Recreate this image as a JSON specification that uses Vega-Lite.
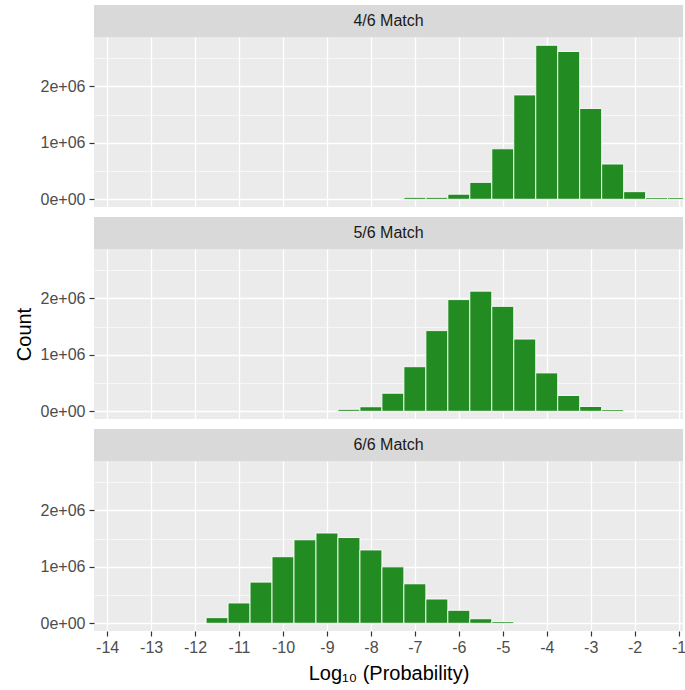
{
  "$schema": "https://vega.github.io/schema/vega-lite/v6.json",
  "padding": {"left": 14, "top": 5, "right": 0, "bottom": 2},
  "background": "white",
  "datasets": {
    "bins": [
      {"panel": "4/6 Match", "lo": -7.25, "hi": -6.75, "count": 35000},
      {"panel": "4/6 Match", "lo": -6.75, "hi": -6.25, "count": 35000},
      {"panel": "4/6 Match", "lo": -6.25, "hi": -5.75, "count": 90000},
      {"panel": "4/6 Match", "lo": -5.75, "hi": -5.25, "count": 300000},
      {"panel": "4/6 Match", "lo": -5.25, "hi": -4.75, "count": 895000},
      {"panel": "4/6 Match", "lo": -4.75, "hi": -4.25, "count": 1850000},
      {"panel": "4/6 Match", "lo": -4.25, "hi": -3.75, "count": 2730000},
      {"panel": "4/6 Match", "lo": -3.75, "hi": -3.25, "count": 2620000},
      {"panel": "4/6 Match", "lo": -3.25, "hi": -2.75, "count": 1610000},
      {"panel": "4/6 Match", "lo": -2.75, "hi": -2.25, "count": 625000},
      {"panel": "4/6 Match", "lo": -2.25, "hi": -1.75, "count": 135000},
      {"panel": "4/6 Match", "lo": -1.75, "hi": -1.25, "count": 30000},
      {"panel": "4/6 Match", "lo": -1.25, "hi": -0.75, "count": 30000},
      {"panel": "5/6 Match", "lo": -8.75, "hi": -8.25, "count": 35000},
      {"panel": "5/6 Match", "lo": -8.25, "hi": -7.75, "count": 80000},
      {"panel": "5/6 Match", "lo": -7.75, "hi": -7.25, "count": 320000},
      {"panel": "5/6 Match", "lo": -7.25, "hi": -6.75, "count": 790000},
      {"panel": "5/6 Match", "lo": -6.75, "hi": -6.25, "count": 1430000},
      {"panel": "5/6 Match", "lo": -6.25, "hi": -5.75, "count": 1980000},
      {"panel": "5/6 Match", "lo": -5.75, "hi": -5.25, "count": 2130000},
      {"panel": "5/6 Match", "lo": -5.25, "hi": -4.75, "count": 1860000},
      {"panel": "5/6 Match", "lo": -4.75, "hi": -4.25, "count": 1280000},
      {"panel": "5/6 Match", "lo": -4.25, "hi": -3.75, "count": 680000},
      {"panel": "5/6 Match", "lo": -3.75, "hi": -3.25, "count": 280000},
      {"panel": "5/6 Match", "lo": -3.25, "hi": -2.75, "count": 85000},
      {"panel": "5/6 Match", "lo": -2.75, "hi": -2.25, "count": 30000},
      {"panel": "6/6 Match", "lo": -11.75, "hi": -11.25, "count": 100000},
      {"panel": "6/6 Match", "lo": -11.25, "hi": -10.75, "count": 360000},
      {"panel": "6/6 Match", "lo": -10.75, "hi": -10.25, "count": 730000},
      {"panel": "6/6 Match", "lo": -10.25, "hi": -9.75, "count": 1180000},
      {"panel": "6/6 Match", "lo": -9.75, "hi": -9.25, "count": 1480000},
      {"panel": "6/6 Match", "lo": -9.25, "hi": -8.75, "count": 1600000},
      {"panel": "6/6 Match", "lo": -8.75, "hi": -8.25, "count": 1520000},
      {"panel": "6/6 Match", "lo": -8.25, "hi": -7.75, "count": 1300000},
      {"panel": "6/6 Match", "lo": -7.75, "hi": -7.25, "count": 1000000},
      {"panel": "6/6 Match", "lo": -7.25, "hi": -6.75, "count": 700000},
      {"panel": "6/6 Match", "lo": -6.75, "hi": -6.25, "count": 430000},
      {"panel": "6/6 Match", "lo": -6.25, "hi": -5.75, "count": 230000},
      {"panel": "6/6 Match", "lo": -5.75, "hi": -5.25, "count": 80000},
      {"panel": "6/6 Match", "lo": -5.25, "hi": -4.75, "count": 30000}
    ],
    "strips": [
      {"panel": "4/6 Match"},
      {"panel": "5/6 Match"},
      {"panel": "6/6 Match"}
    ]
  },
  "spacing": 9,
  "vconcat": [
    {
      "spacing": 0,
      "bounds": "flush",
      "vconcat": [
        {
          "width": 589, "height": 32,
          "view": {"fill": "#D9D9D9", "stroke": null},
          "data": {"name": "strips"},
          "transform": [{"filter": "datum.panel == '4/6 Match'"}],
          "mark": {"type": "text", "font": "Liberation Sans", "fontSize": 16, "color": "#1A1A1A"},
          "encoding": {"text": {"field": "panel"}}
        },
        {
          "width": 589, "height": 170,
          "view": {"fill": "#EBEBEB", "stroke": null},
          "data": {"name": "bins"},
          "transform": [{"filter": "datum.panel == '4/6 Match'"}],
          "mark": {"type": "bar", "fill": "#228B22", "stroke": "white", "strokeWidth": 0.9, "clip": true},
          "encoding": {
            "x": {"field": "lo", "type": "quantitative", "scale": {"domain": [-14.3, -0.9], "nice": false, "zero": false},
                  "axis": {"values": [-14,-13,-12,-11,-10,-9,-8,-7,-6,-5,-4,-3,-2,-1], "labels": false, "ticks": false, "domain": false, "title": null, "grid": true, "gridColor": "white", "gridWidth": 1.3}},
            "x2": {"field": "hi"},
            "y": {"field": "count", "type": "quantitative", "scale": {"domain": [-137000, 2877000], "nice": false, "zero": false},
                  "axis": {"values": [0,500000,1000000,1500000,2000000,2500000],
                           "labelExpr": "datum.value == 0 ? '0e+00' : (datum.value % 1000000 == 0 ? (datum.value/1000000) + 'e+06' : '')",
                           "gridWidth": {"condition": {"test": "datum.value % 1000000 == 0", "value": 1.3}, "value": 0.6},
                           "tickOpacity": {"condition": {"test": "datum.value % 1000000 == 0", "value": 1}, "value": 0},
                           "title": "Count", "titleOpacity": 0}},
            "y2": {"datum": 0}
          }
        }
      ]
    },
    {
      "spacing": 0,
      "bounds": "flush",
      "vconcat": [
        {
          "width": 589, "height": 32,
          "view": {"fill": "#D9D9D9", "stroke": null},
          "data": {"name": "strips"},
          "transform": [{"filter": "datum.panel == '5/6 Match'"}],
          "mark": {"type": "text", "font": "Liberation Sans", "fontSize": 16, "color": "#1A1A1A"},
          "encoding": {"text": {"field": "panel"}}
        },
        {
          "width": 589, "height": 170,
          "view": {"fill": "#EBEBEB", "stroke": null},
          "data": {"name": "bins"},
          "transform": [{"filter": "datum.panel == '5/6 Match'"}],
          "mark": {"type": "bar", "fill": "#228B22", "stroke": "white", "strokeWidth": 0.9, "clip": true},
          "encoding": {
            "x": {"field": "lo", "type": "quantitative", "scale": {"domain": [-14.3, -0.9], "nice": false, "zero": false},
                  "axis": {"values": [-14,-13,-12,-11,-10,-9,-8,-7,-6,-5,-4,-3,-2,-1], "labels": false, "ticks": false, "domain": false, "title": null, "grid": true, "gridColor": "white", "gridWidth": 1.3}},
            "x2": {"field": "hi"},
            "y": {"field": "count", "type": "quantitative", "scale": {"domain": [-137000, 2877000], "nice": false, "zero": false},
                  "axis": {"values": [0,500000,1000000,1500000,2000000,2500000],
                           "labelExpr": "datum.value == 0 ? '0e+00' : (datum.value % 1000000 == 0 ? (datum.value/1000000) + 'e+06' : '')",
                           "gridWidth": {"condition": {"test": "datum.value % 1000000 == 0", "value": 1.3}, "value": 0.6},
                           "tickOpacity": {"condition": {"test": "datum.value % 1000000 == 0", "value": 1}, "value": 0},
                           "title": "Count"}},
            "y2": {"datum": 0}
          }
        }
      ]
    },
    {
      "spacing": 0,
      "bounds": "flush",
      "vconcat": [
        {
          "width": 589, "height": 32,
          "view": {"fill": "#D9D9D9", "stroke": null},
          "data": {"name": "strips"},
          "transform": [{"filter": "datum.panel == '6/6 Match'"}],
          "mark": {"type": "text", "font": "Liberation Sans", "fontSize": 16, "color": "#1A1A1A"},
          "encoding": {"text": {"field": "panel"}}
        },
        {
          "width": 589, "height": 170,
          "view": {"fill": "#EBEBEB", "stroke": null},
          "data": {"name": "bins"},
          "transform": [{"filter": "datum.panel == '6/6 Match'"}],
          "mark": {"type": "bar", "fill": "#228B22", "stroke": "white", "strokeWidth": 0.9, "clip": true},
          "encoding": {
            "x": {"field": "lo", "type": "quantitative", "scale": {"domain": [-14.3, -0.9], "nice": false, "zero": false},
                  "axis": {"values": [-14,-13,-12,-11,-10,-9,-8,-7,-6,-5,-4,-3,-2,-1], "labels": true, "ticks": true, "domain": false,
                           "labelExpr": "'' + datum.value",
                           "title": "Log₁₀ (Probability)", "grid": true, "gridColor": "white", "gridWidth": 1.3,
                           "labelFlush": false, "labelOverlap": false, "labelPadding": 3, "titlePadding": 8}},
            "x2": {"field": "hi"},
            "y": {"field": "count", "type": "quantitative", "scale": {"domain": [-137000, 2877000], "nice": false, "zero": false},
                  "axis": {"values": [0,500000,1000000,1500000,2000000,2500000],
                           "labelExpr": "datum.value == 0 ? '0e+00' : (datum.value % 1000000 == 0 ? (datum.value/1000000) + 'e+06' : '')",
                           "gridWidth": {"condition": {"test": "datum.value % 1000000 == 0", "value": 1.3}, "value": 0.6},
                           "tickOpacity": {"condition": {"test": "datum.value % 1000000 == 0", "value": 1}, "value": 0},
                           "title": "Count", "titleOpacity": 0}},
            "y2": {"datum": 0}
          }
        }
      ]
    }
  ],
  "config": {
    "font": "Liberation Sans",
    "view": {"stroke": null},
    "axis": {
      "labelFont": "Liberation Sans",
      "labelFontSize": 16,
      "labelColor": "#4D4D4D",
      "tickColor": "#333333",
      "tickSize": 5,
      "tickWidth": 1.2,
      "titleFont": "Liberation Sans",
      "titleFontSize": 20,
      "titleFontWeight": "normal",
      "titleColor": "#000000",
      "gridColor": "white"
    },
    "axisY": {
      "grid": true,
      "domain": false,
      "labelPadding": 4,
      "labelOverlap": false,
      "titlePadding": 6
    }
  }
}
